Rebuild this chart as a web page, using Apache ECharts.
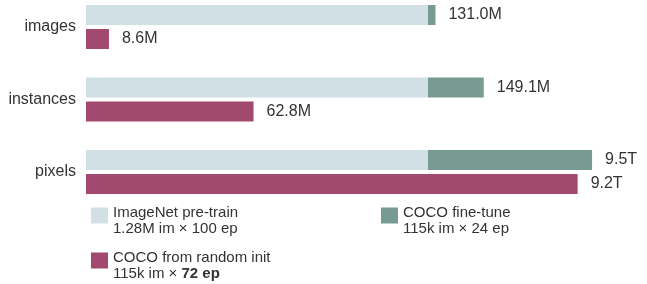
<!DOCTYPE html>
<html>
<head>
<meta charset="utf-8">
<script src="https://cdn.jsdelivr.net/npm/echarts@6/dist/echarts.min.js"></script>
<style>
html, body { margin: 0; padding: 0; background: #fff; }
#chart { width: 647px; height: 284px; }
</style>
</head>
<body>
<div id="chart"></div>
<script>
const categories = ['images', 'instances', 'pixels']
const units = ['M', 'M', 'T']
const imagenetPretrain = [128.2, 128.2, 6.4]
const cocoFinetune = [2.8, 20.9, 3.07]
const cocoRandomInit = [8.6, 62.8, 9.2]

// every category is drawn relative to its own ImageNet amount
const norm = arr => arr.map((v, i) => v / imagenetPretrain[i])
const totals = imagenetPretrain.map((v, i) => v + cocoFinetune[i])

const textColor = '#333'
const font = '"Liberation Sans", Arial, sans-serif'

const legendText = {
  'ImageNet pre-train': '{a|ImageNet pre-train}\n{a|1.28M im × 100 ep}',
  'COCO fine-tune': '{a|COCO fine-tune}\n{a|115k im × 24 ep}',
  'COCO from random init': '{a|COCO from random init}\n{a|115k im × }{b|72 ep}'
}

const legendStyle = {
  orient: 'vertical',
  padding: 0,
  itemGap: 14,
  itemWidth: 17,
  itemHeight: 16,
  icon: 'rect',
  selectedMode: false,
  formatter: name => legendText[name],
  textStyle: {
    // keeps the swatch beside the first text line
    padding: [10, 0, 0, 0],
    rich: {
      a: { fontFamily: font, fontSize: 15, color: textColor, lineHeight: 16 },
      b: { fontFamily: font, fontSize: 15, color: textColor, lineHeight: 16, fontWeight: 'bold' }
    }
  }
}

const valueLabel = (fmt) => ({
  show: true,
  position: 'right',
  distance: 13,
  fontFamily: font,
  fontSize: 16,
  color: textColor,
  formatter: fmt
})

const chart = echarts.init(document.getElementById('chart'), null, { renderer: 'canvas' })
chart.setOption({
  animation: false,
  textStyle: { fontFamily: font },
  grid: { left: 86, width: 547.2, top: 27, bottom: 112 },
  legend: [
    Object.assign({ left: 91, top: 205, data: ['ImageNet pre-train', 'COCO from random init'] }, legendStyle),
    Object.assign({ left: 381, top: 205, data: ['COCO fine-tune'] }, legendStyle)
  ],
  xAxis: { type: 'value', min: 0, max: 1.6, show: false },
  yAxis: {
    type: 'category',
    data: categories,
    inverse: true,
    boundaryGap: false,
    axisLine: { show: false },
    axisTick: { show: false },
    splitLine: { show: false },
    axisLabel: { fontFamily: font, fontSize: 16, color: textColor, margin: 10 }
  },
  series: [
    {
      name: 'ImageNet pre-train',
      type: 'bar',
      stack: 'pre',
      barWidth: 20,
      barGap: '20%',
      itemStyle: { color: '#d1e0e5' },
      data: norm(imagenetPretrain)
    },
    {
      name: 'COCO fine-tune',
      type: 'bar',
      stack: 'pre',
      barWidth: 20,
      itemStyle: { color: '#779b93' },
      label: valueLabel(p => totals[p.dataIndex].toFixed(1) + units[p.dataIndex]),
      data: norm(cocoFinetune)
    },
    {
      name: 'COCO from random init',
      type: 'bar',
      barWidth: 20,
      barGap: '20%',
      itemStyle: { color: '#a1496f' },
      label: valueLabel(p => cocoRandomInit[p.dataIndex].toFixed(1) + units[p.dataIndex]),
      data: norm(cocoRandomInit)
    }
  ]
})
</script>
</body>
</html>
